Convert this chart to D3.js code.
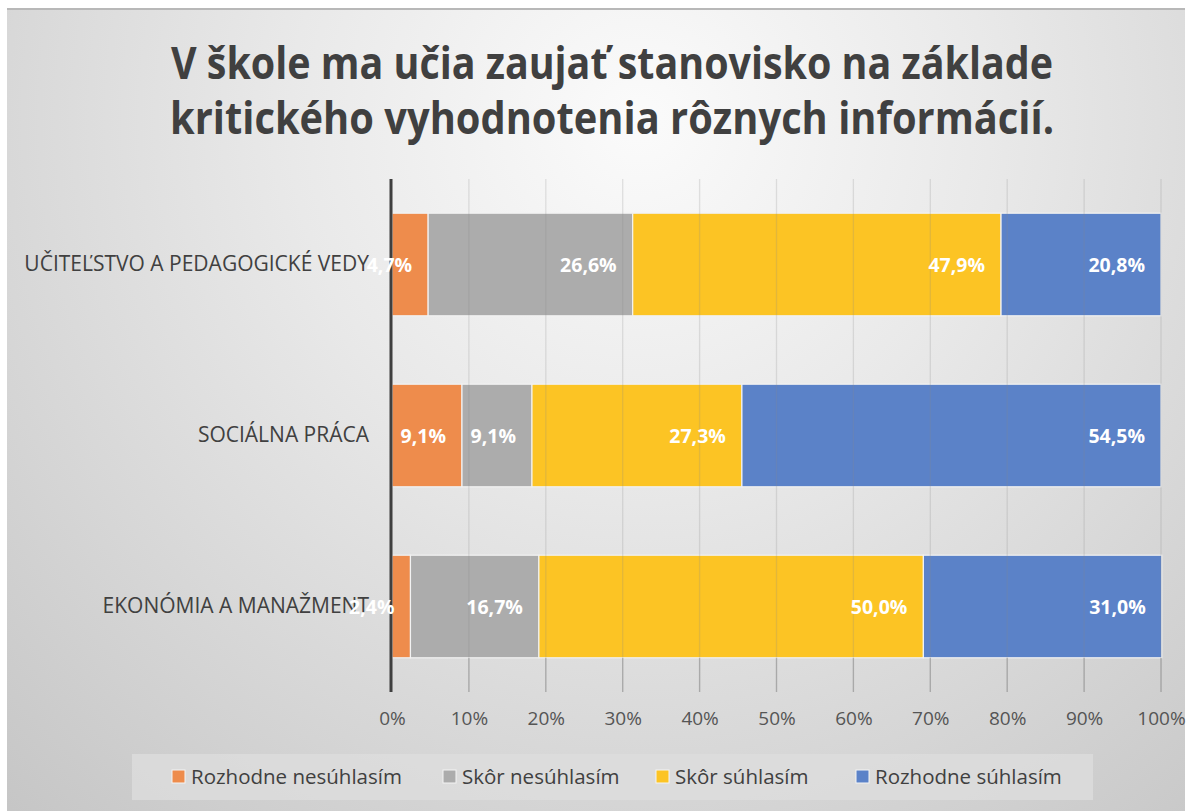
<!DOCTYPE html>
<html><head><meta charset="utf-8">
<script src="https://cdn.jsdelivr.net/npm/d3@7"></script>
<style>html,body{margin:0;padding:0;background:#fff;overflow:hidden}</style>
</head><body>
<svg id="c" width="1197" height="811"></svg>
<script>
const titleLines = ["V škole ma učia zaujať stanovisko na základe", "kritického vyhodnotenia rôznych informácií."];
const categories = ["UČITEĽSTVO A PEDAGOGICKÉ VEDY", "SOCIÁLNA PRÁCA", "EKONÓMIA A MANAŽMENT"];
const seriesNames = ["Rozhodne nesúhlasím", "Skôr nesúhlasím", "Skôr súhlasím", "Rozhodne súhlasím"];
const seriesColors = ["#ee8c4c", "#acacac", "#fcc424", "#5b82c8"];
const rozhodneNesuhlasim = [4.7, 9.1, 2.4];
const skorNesuhlasim = [26.6, 9.1, 16.7];
const skorSuhlasim = [47.9, 27.3, 50.0];
const rozhodneSuhlasim = [20.8, 54.5, 31.0];
const tickValues = [0, 10, 20, 30, 40, 50, 60, 70, 80, 90, 100];

const seriesValues = [rozhodneNesuhlasim, skorNesuhlasim, skorSuhlasim, rozhodneSuhlasim];
const svg = d3.select("#c");
const W = 1197, H = 811;
const fmt = v => d3.format(".1f")(v).replace(".", ",") + "%";

// background
const defs = svg.append("defs");
const rg = defs.append("radialGradient").attr("id", "bg").attr("gradientUnits", "userSpaceOnUse")
  .attr("cx", 640).attr("cy", 120).attr("r", 1000);
rg.append("stop").attr("offset", "0").attr("stop-color", "#fbfbfb");
rg.append("stop").attr("offset", "0.35").attr("stop-color", "#e9e9e9");
rg.append("stop").attr("offset", "1").attr("stop-color", "#c2c2c2");
svg.append("rect").attr("x", 7).attr("y", 8).attr("width", 1178).attr("height", H - 8).attr("fill", "url(#bg)");
svg.append("rect").attr("x", 7).attr("y", 8).attr("width", 1178).attr("height", 2).attr("fill", "#b8b8b8");

// title
const title = svg.append("g");
const targetW = [882, 884];
titleLines.forEach((t, i) => {
  title.append("text").text(t)
    .attr("x", 612).attr("y", i === 0 ? 79 : 134)
    .attr("text-anchor", "middle")
    .attr("font-family", "'Open Sans', 'Liberation Sans', sans-serif")
    .attr("font-weight", "bold").attr("font-size", 45).attr("fill", "#404040")
    .attr("textLength", targetW[i]).attr("lengthAdjust", "spacingAndGlyphs");
});

const x = d3.scaleLinear().domain([0, 100]).range([392, 1161]);
const y = d3.scaleBand().domain(categories).range([179, 692]).paddingInner(0.4).paddingOuter(0.2);

// y axis labels (under bars/labels)
const yAxis = svg.append("g").attr("transform", "translate(391,0)")
  .call(d3.axisLeft(y).tickSize(0).tickPadding(22));
yAxis.select(".domain").remove();
yAxis.selectAll("text").attr("font-family", "'Open Sans', sans-serif").attr("font-size", 21).attr("fill", "#404040");

const stackData = categories.map((c, i) => {
  const o = { cat: c };
  seriesNames.forEach((s, j) => o[s] = seriesValues[j][i]);
  return o;
});
const stack = d3.stack().keys(seriesNames)(stackData);

const barsG = svg.append("g");
stack.forEach((layer, j) => {
  barsG.selectAll(null).data(layer).enter().append("rect")
    .attr("x", d => x(d[0]))
    .attr("y", d => y(d.data.cat))
    .attr("width", d => x(d[1]) - x(d[0]))
    .attr("height", y.bandwidth())
    .attr("fill", seriesColors[j])
    .attr("stroke", "#f2f2f2").attr("stroke-width", 1.2);
});

// gridlines
const gridG = svg.append("g");
gridG.selectAll("line").data(tickValues.slice(1)).enter().append("line")
  .attr("x1", d => x(d)).attr("x2", d => x(d))
  .attr("y1", 179).attr("y2", 692)
  .attr("stroke", "#888").attr("stroke-opacity", 0.22).attr("stroke-width", 1.3);
gridG.selectAll("line.t").data(tickValues.slice(1)).enter().append("line").attr("class", "t")
  .attr("x1", d => x(d)).attr("x2", d => x(d))
  .attr("y1", 658).attr("y2", 692)
  .attr("stroke", "#8a8a8a").attr("stroke-opacity", 0.5).attr("stroke-width", 1.3);

// axis line
svg.append("line").attr("x1", 391).attr("x2", 391).attr("y1", 179).attr("y2", 692)
  .attr("stroke", "#3f3f3f").attr("stroke-width", 3);

// data labels
const lblG = svg.append("g");
stack.forEach((layer, j) => {
  lblG.selectAll(null).data(layer).enter().append("text")
    .attr("x", d => x(d[1]) - 16)
    .attr("y", d => y(d.data.cat) + y.bandwidth() / 2)
    .attr("dy", "0.36em")
    .attr("text-anchor", "end")
    .attr("font-family", "'Open Sans', sans-serif").attr("font-weight", "bold")
    .attr("font-size", 19.5).attr("fill", "#ffffff")
    .text(d => fmt(d[1] - d[0]));
});

// x axis labels
const xAxis = svg.append("g").attr("transform", "translate(0,692)")
  .call(d3.axisBottom(x).tickValues(tickValues).tickFormat(d => d + "%").tickSize(0).tickPadding(20));
xAxis.select(".domain").remove();
xAxis.selectAll("text").attr("font-family", "'Open Sans', sans-serif").attr("font-size", 19).attr("fill", "#555");

// legend
const lg = svg.append("g");
lg.append("rect").attr("x", 132).attr("y", 754).attr("width", 961).attr("height", 46).attr("fill", "#dedede").attr("fill-opacity", 0.75);
const legX = [172, 443, 656, 856];
seriesNames.forEach((s, j) => {
  lg.append("rect").attr("x", legX[j]).attr("y", 770).attr("width", 13).attr("height", 13)
    .attr("fill", seriesColors[j]).attr("stroke", "#f4f4f4").attr("stroke-width", 1);
  lg.append("text").attr("x", legX[j] + 19).attr("y", 777).attr("dy", "0.35em")
    .attr("font-family", "'Open Sans', sans-serif").attr("font-size", 20.5).attr("fill", "#404040").text(s);
});
</script>
</body></html>
